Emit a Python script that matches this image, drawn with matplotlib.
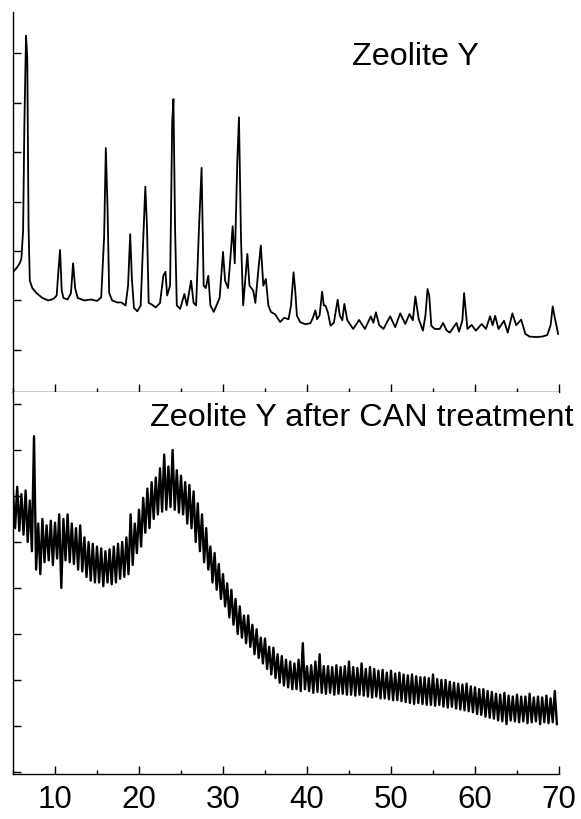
import matplotlib
matplotlib.use('Agg')
import numpy as np
import matplotlib.pyplot as plt
from matplotlib.ticker import MultipleLocator

plt.rcParams['font.family'] = ['Liberation Sans', 'DejaVu Sans']

# Zeolite Y pattern as (2theta, counts) vertices
top_x = [5.0, 5.4, 5.8, 6.0, 6.2, 6.35, 6.55, 6.7, 6.85, 7.0, 7.3, 7.8, 8.5, 9.2, 9.8,
         10.2, 10.45, 10.6, 10.8, 11.0, 11.5, 11.9, 12.15, 12.4, 12.7, 13.5, 14.3, 15.0,
         15.5, 15.85, 16.05, 16.25, 16.45, 16.8, 17.4, 17.9, 18.4, 18.7, 18.95, 19.15,
         19.4, 19.8, 20.2, 20.5, 20.75, 20.95, 21.15, 21.5, 22.0, 22.5, 22.9, 23.15,
         23.35, 23.7, 23.95, 24.1, 24.3, 24.5, 24.9, 25.4, 25.7, 26.2, 26.5, 26.8,
         27.15, 27.45, 27.7, 27.95, 28.25, 28.5, 28.9, 29.6, 30.0, 30.25, 30.6, 30.9,
         31.15, 31.4, 31.7, 31.9, 32.15, 32.4, 32.9, 33.15, 33.6, 33.85, 34.2, 34.5,
         34.8, 35.1, 35.4, 35.7, 36.2, 36.8, 37.3, 37.8, 38.1, 38.4, 38.6, 38.8, 39.2,
         39.8, 40.4, 40.7, 41.0, 41.2, 41.5, 41.8, 42.0, 42.2, 42.5, 42.8, 43.2, 43.65,
         43.9, 44.2, 44.45, 44.8, 45.5, 46.2, 46.9, 47.6, 47.9, 48.2, 48.6, 49.1, 49.9,
         50.5, 51.1, 51.7, 52.2, 52.6, 52.9, 53.3, 53.8, 54.1, 54.35, 54.55, 54.8, 55.2,
         55.8, 56.2, 56.6, 57.0, 57.8, 58.1, 58.5, 58.7, 58.95, 59.1, 59.6, 60.1, 60.8,
         61.3, 61.8, 62.1, 62.4, 62.8, 63.45, 63.9, 64.45, 64.9, 65.5, 66.0, 66.5, 67.3,
         68.0, 68.6, 69.0, 69.25, 69.5, 69.9]
top_y = [2580, 2650, 2750, 2850, 3400, 5500, 7350, 6900, 3500, 2400, 2250, 2150, 2050, 2000, 2030,
         2100, 2700, 3020, 2200, 2050, 2020, 2150, 2750, 2250, 2050, 2000, 2020, 1990,
         2060, 3300, 5080, 3900, 2150, 2000, 1960, 1960, 1900, 2300, 3340, 2450,
         1850, 1780, 1900, 3200, 4300, 3500, 1950, 1920, 1860, 1950, 2500, 2580,
         2100, 2300, 5600, 6070, 3400, 1900, 1830, 2130, 1900, 2400, 1950, 1900,
         3500, 4680, 2300, 2250, 2500, 1900, 1770, 2050, 2980, 2400, 2250, 2900,
         3500, 2750, 4800, 5700, 3200, 1900, 2940, 2300, 2200, 1950, 2600, 3110,
         2300, 2434, 1900, 1770, 1720, 1565, 1650, 1620, 1900, 2570, 2200, 1690, 1560,
         1520, 1540, 1650, 1800, 1620, 1700, 2180, 1900, 1895, 1750, 1490, 1550, 2016,
         1700, 1600, 1930, 1600, 1424, 1606, 1424, 1680, 1550, 1760, 1500, 1424, 1680,
         1460, 1740, 1525, 1727, 1600, 2080, 1626, 1390, 1700, 2232, 2100, 1490, 1424,
         1424, 1545, 1400, 1350, 1545, 1370, 1600, 2150, 1700, 1424, 1505, 1390, 1525,
         1424, 1680, 1500, 1690, 1424, 1590, 1350, 1740, 1500, 1612, 1323, 1270, 1260,
         1270, 1300, 1500, 1880, 1650, 1323]

# after CAN treatment: counts every 0.25 deg from 5.0, read top/bottom of the noisy band
bottom_y = [
    3550, 3150, 3600, 3120, 3520, 3080, 3560, 3000,   # 5-6.75
    3450, 2900, 4150, 2700, 3200, 2650, 3250, 2780,   # 7-8.75
    3180, 2800, 3230, 2750, 3210, 2820, 3300, 2500,   # 9-10.75
    3250, 2800, 3300, 2780, 3200, 2760, 3150, 2700,   # 11-12.75
    3180, 2680, 3050, 2620, 3000, 2580, 2980, 2560,   # 13-14.75
    2950, 2560, 2930, 2520, 2900, 2560, 2920, 2540,   # 15-16.75
    2950, 2560, 2980, 2600, 3000, 2620, 3050, 2650,   # 17-18.75
    3300, 2750, 3200, 2880, 3350, 2950, 3480, 3100,   # 19-20.75
    3580, 3150, 3650, 3250, 3700, 3300, 3800, 3330,   # 21-22.75
    3950, 3350, 3820, 3380, 4000, 3350, 3780, 3320,   # 23-24.75
    3720, 3300, 3650, 3200, 3620, 3150, 3550, 3000,   # 25-26.75
    3420, 2900, 3300, 2780, 3150, 2700, 2950, 2560,   # 27-28.75
    2880, 2480, 2760, 2380, 2650, 2300, 2550, 2180,   # 29-30.75
    2480, 2100, 2380, 2000, 2300, 1960, 2200, 1900,   # 31-32.75
    2200, 1860, 2100, 1780, 2050, 1740, 1960, 1680,   # 33-34.75
    1950, 1620, 1860, 1560, 1850, 1520, 1780, 1470,   # 35-36.75
    1760, 1440, 1720, 1420, 1700, 1400, 1680, 1400,   # 37-38.75
    1720, 1380, 1900, 1400, 1650, 1380, 1660, 1360,   # 39-40.75
    1700, 1370, 1780, 1360, 1650, 1350, 1650, 1360,   # 41-42.75
    1640, 1340, 1660, 1350, 1640, 1350, 1650, 1340,   # 43-44.75
    1700, 1340, 1640, 1330, 1630, 1340, 1680, 1330,   # 45-46.75
    1620, 1320, 1640, 1310, 1620, 1320, 1600, 1300,   # 47-48.75
    1610, 1300, 1580, 1290, 1600, 1280, 1570, 1280,   # 49-50.75
    1580, 1270, 1560, 1260, 1550, 1250, 1560, 1240,   # 51-52.75
    1540, 1250, 1530, 1240, 1530, 1230, 1520, 1230,   # 53-54.75
    1560, 1220, 1510, 1230, 1500, 1210, 1500, 1200,   # 55-56.75
    1480, 1210, 1470, 1190, 1460, 1180, 1450, 1170,   # 57-58.75
    1460, 1160, 1430, 1150, 1420, 1130, 1400, 1120,   # 59-60.75
    1400, 1100, 1380, 1090, 1370, 1080, 1350, 1060,   # 61-62.75
    1340, 1050, 1360, 1020, 1330, 1060, 1320, 1050,   # 63-64.75
    1340, 1040, 1320, 1050, 1320, 1030, 1350, 1040,   # 65-66.75
    1310, 1050, 1320, 1020, 1310, 1040, 1330, 1030,   # 67-68.75
    1300, 1040, 1380, 1020,                           # 69-69.75
]
bottom_x = 5.0 + 0.25 * np.arange(len(bottom_y))

x_ticks = [10, 20, 30, 40, 50, 60, 70]

fig = plt.figure(figsize=(5.81, 8.20), dpi=100)
ax1 = fig.add_axes([13/581, 1 - 393/820, 546/581, 380/820])
ax2 = fig.add_axes([13/581, 1 - 775/820, 546/581, 382/820])

ax1.plot(top_x, top_y, color='black', lw=1.3)
ax2.plot(bottom_x, bottom_y, color='black', lw=1.7)

ax1.set_ylim(150, 7830)
ax2.set_ylim(478, 4630)
ax1.yaxis.set_major_locator(MultipleLocator(1000))
ax2.yaxis.set_major_locator(MultipleLocator(500))

for ax in (ax1, ax2):
    ax.set_xlim(5, 70)
    ax.set_xticks(x_ticks)
    ax.xaxis.set_minor_locator(MultipleLocator(5))
    ax.spines['top'].set_visible(False)
    ax.spines['right'].set_visible(False)
    for s in ('left', 'bottom'):
        ax.spines[s].set_linewidth(1.0)
    ax.tick_params(which='major', direction='in', length=6, width=1.0)
    ax.tick_params(which='minor', direction='in', length=3, width=1.0)
    ax.tick_params(axis='y', which='both', labelleft=False)
    ax.yaxis.set_minor_locator(matplotlib.ticker.NullLocator())

ax1.tick_params(axis='x', which='both', labelbottom=False)
ax2.tick_params(axis='x', which='major', labelsize=22.5, pad=7)

fig.text(352/581, 1 - 57/820, 'Zeolite Y', fontsize=23.3, ha='left', va='center')
fig.text(573/581, 1 - 418/820, 'Zeolite Y after CAN treatment', fontsize=23.3,
         ha='right', va='center')

fig.savefig('out.png', dpi=100)
